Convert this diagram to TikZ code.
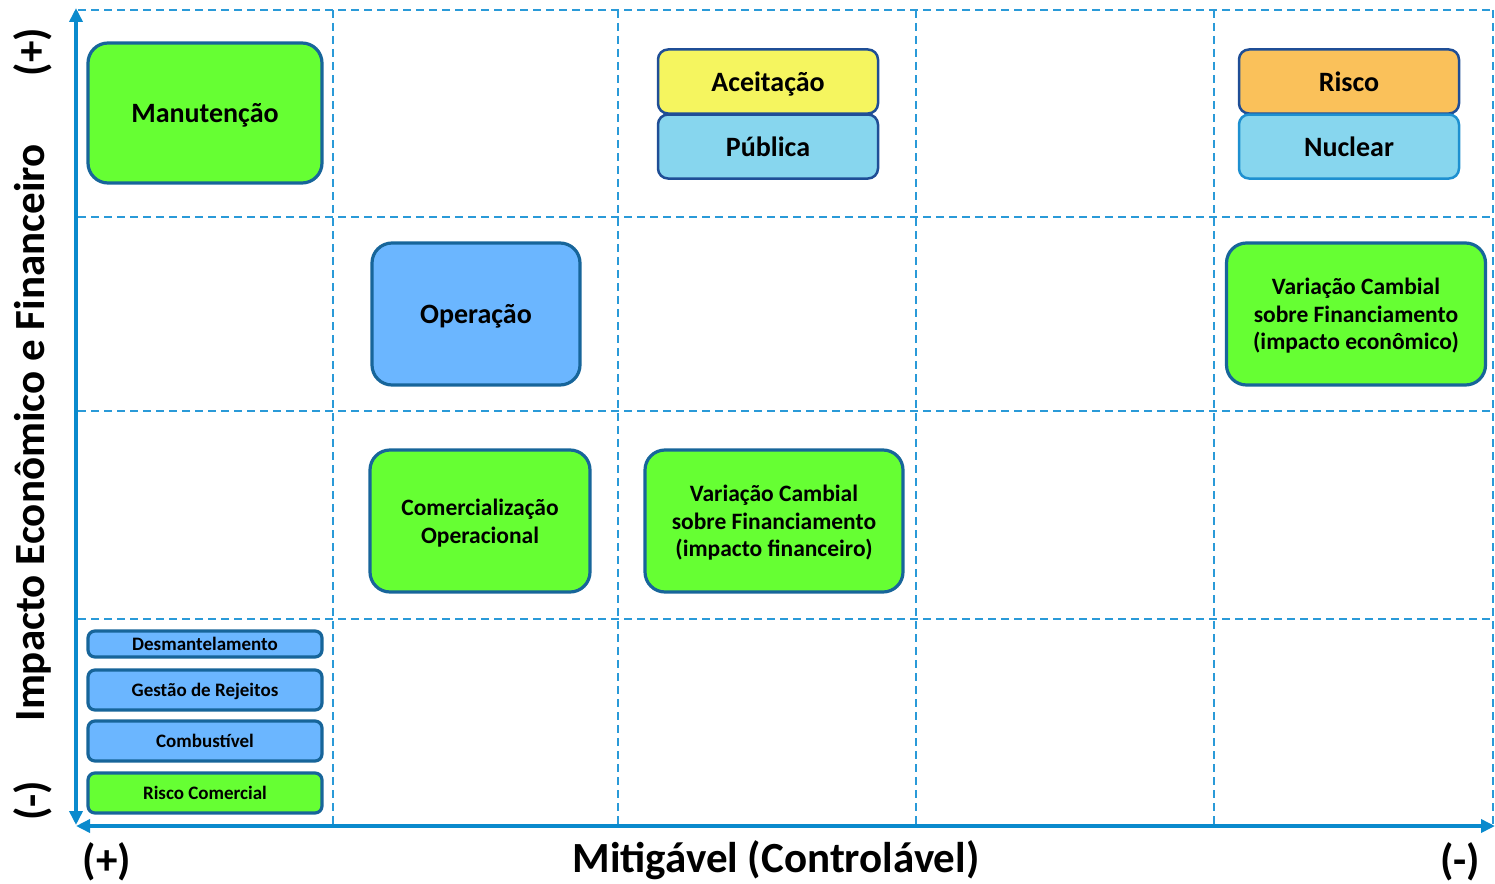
\documentclass[tikz,border=0pt]{standalone}
\usepackage{fontspec}
\setmainfont{Carlito}
\usetikzlibrary{arrows.meta}
\definecolor{gridblue}{HTML}{2A9AD8}
\definecolor{axisblue}{HTML}{0A8ACD}
\definecolor{edgeteal}{HTML}{17659A}
\definecolor{edgenavy}{HTML}{1F4E96}
\definecolor{edgesky}{HTML}{1E90D0}
\definecolor{fgreen}{HTML}{66FF33}
\definecolor{fblue}{HTML}{6BB6FF}
\definecolor{fsky}{HTML}{87D6EE}
\definecolor{fyellow}{HTML}{F5F55F}
\definecolor{forange}{HTML}{FAC15A}
\tikzset{
  gridline/.style={gridblue, line width=1.6pt, dash pattern=on 8pt off 5pt},
  axisline/.style={axisblue, line width=3.5pt, {Triangle[length=14pt,width=13pt]}-{Triangle[length=14pt,width=13pt]}},
  box/.style={draw=edgeteal, line width=3.2pt, rounded corners=20pt, inner sep=0pt, align=center, text depth=0pt, font=\bfseries\fontsize{28}{33}\selectfont},
  textbox/.style={box, font=\bfseries\fontsize{23.5}{27.5}\selectfont},
  smallbox/.style={box, rounded corners=7pt, font=\bfseries\fontsize{19}{22}\selectfont},
  pairbox/.style={box, line width=2.5pt, rounded corners=10pt, minimum width=220pt, minimum height=64pt},
  axislabel/.style={font=\bfseries\fontsize{43}{50}\selectfont},
}
\begin{document}
\begin{tikzpicture}[x=1pt,y=-1pt]
\useasboundingbox (0,0) rectangle (1495,883);
% quadrant grid
\foreach \x in {333,618,916,1214,1493}
  \draw[gridline] (\x,10) -- (\x,825);
\foreach \y in {10,217,411,619}
  \draw[gridline] (78,\y) -- (1493,\y);
% axes
\coordinate (ytop) at (76,8);
\coordinate (ybot) at (76,825);
\coordinate (xleft) at (76,826);
\coordinate (xright) at (1495,826);
\draw[axisline] (ybot) -- (ytop);
\draw[axisline] (xleft) -- (xright);
% axis titles
\node[axislabel, rotate=90] (ytitle) at (33,433) {Impacto Econômico e Financeiro};
\node[axislabel, rotate=90] (yplus) at (33,52) {(+)};
\node[axislabel, rotate=90] (yminus) at (33,801) {(-)};
\node[axislabel] (xtitle) at (776,860) {Mitigável (Controlável)};
\node[axislabel] (xplus) at (107,862) {(+)};
\node[axislabel] (xminus) at (1460,862) {(-)};
% risk boxes
\node[box, fill=fgreen, minimum width=234pt, minimum height=140pt] (manut) at (205,113) {Manutenção};
\node[pairbox, fill=fyellow, draw=edgenavy] (aceit) at (768,81.5) {Aceitação};
\node[pairbox, fill=fsky, draw=edgenavy] (publ) at (768,146.5) {Pública};
\node[pairbox, fill=forange, draw=edgenavy] (risco) at (1349,81.5) {Risco};
\node[pairbox, fill=fsky, draw=edgesky] (nucl) at (1349,146.5) {Nuclear};
\node[box, fill=fblue, minimum width=208pt, minimum height=142pt] (oper) at (476,314) {Operação};
\node[textbox, fill=fgreen, minimum width=259pt, minimum height=142pt] (varecon) at (1356,314) {Variação Cambial\\sobre Financiamento\\(impacto econômico)};
\node[textbox, fill=fgreen, minimum width=220pt, minimum height=142pt] (comerc) at (480,521) {Comercialização\\Operacional};
\node[textbox, fill=fgreen, minimum width=258pt, minimum height=142pt] (varfin) at (774,521) {Variação Cambial\\sobre Financiamento\\(impacto financeiro)};
\node[smallbox, fill=fblue, minimum width=234pt, minimum height=26pt] (desm) at (205,644) {Desmantelamento};
\node[smallbox, fill=fblue, minimum width=234pt, minimum height=40pt] (gest) at (205,690) {Gestão de Rejeitos};
\node[smallbox, fill=fblue, minimum width=234pt, minimum height=40pt] (comb) at (205,741) {Combustível};
\node[smallbox, fill=fgreen, minimum width=234pt, minimum height=40pt] (rcom) at (205,793) {Risco Comercial};
\end{tikzpicture}
\end{document}
